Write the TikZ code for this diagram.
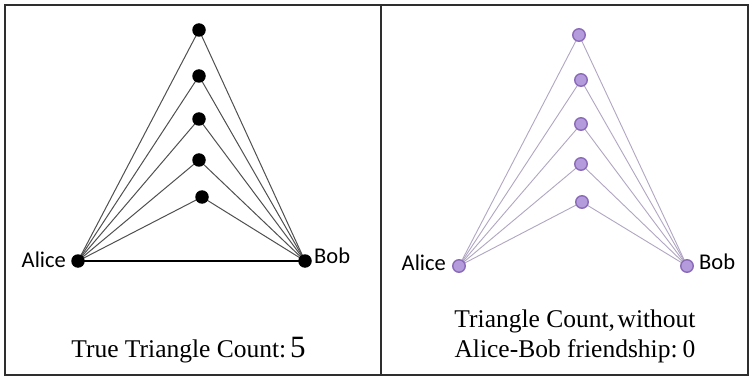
\documentclass[tikz,border=0pt]{standalone}
\usepackage{fontspec}
\setmainfont{Liberation Serif}
\newfontfamily\labelfont{Carlito}
\usetikzlibrary{backgrounds}
\definecolor{edgegray}{HTML}{505050}
\definecolor{nodepurple}{HTML}{B49BDC}
\definecolor{nodepurpledark}{HTML}{8A6BB8}
\definecolor{edgepurple}{HTML}{B0A6C2}
\definecolor{framegray}{HTML}{2E2E2E}
\begin{document}
\begin{tikzpicture}[x=1pt,y=-1pt,
  blackdot/.style={circle,fill=black,inner sep=0pt,minimum size=13.5pt},
  purpledot/.style={circle,fill=nodepurple,draw=nodepurpledark,line width=1.4pt,inner sep=0pt,minimum size=12.5pt},
  grayedge/.style={draw=edgegray,line width=1pt},
  purpleedge/.style={draw=edgepurple,line width=0.9pt},
  namelabel/.style={inner sep=0pt,font=\labelfont\fontsize{22.5}{27}\selectfont},
  caption/.style={inner sep=0pt,anchor=base,font=\fontsize{25.5}{30}\selectfont},
  frame/.style={draw=framegray,line width=2.2pt}]
\useasboundingbox (0,0) rectangle (750,377);
% left panel
\node[blackdot] (la) at (78,261) {};
\node[blackdot] (lb) at (305,261) {};
\node[blackdot] (l1) at (199,30) {};
\node[blackdot] (l2) at (199,76) {};
\node[blackdot] (l3) at (199,119) {};
\node[blackdot] (l4) at (199,160) {};
\node[blackdot] (l5) at (202,197) {};
\node[namelabel,anchor=east] (lalab) at (66,260) {Alice};
\node[namelabel,anchor=west] (lblab) at (314,256) {Bob};
\node[caption] (lcap) at (188.5,357) {True Triangle Count:\hspace{0.15em}{\fontsize{31}{30}\selectfont 5}};
% right panel
\node[purpledot] (ra) at (459,266) {};
\node[purpledot] (rb) at (687,266) {};
\node[purpledot] (r1) at (579,35) {};
\node[purpledot] (r2) at (581,80) {};
\node[purpledot] (r3) at (581,124) {};
\node[purpledot] (r4) at (581,164) {};
\node[purpledot] (r5) at (582,202) {};
\node[namelabel,anchor=east] (ralab) at (446,263) {Alice};
\node[namelabel,anchor=west] (rblab) at (699,262) {Bob};
\node[caption] (rcap1) at (575,327) {Triangle Count,\hspace{0.1em}without};
\node[caption] (rcap2) at (575,357) {Alice-Bob friendship:\hspace{0.2em}0};
\begin{scope}[on background layer]
\fill[white] (0,0) rectangle (750,377);
\draw[frame] (5,5) rectangle (381,375);
\draw[frame] (381,5) rectangle (748,375);
\foreach \n in {l1,l2,l3,l4,l5}{
  \draw[grayedge] (la.center) -- (\n.center) -- (lb.center);
}
\draw[black,line width=1.5pt] (la.center) -- (lb.center);
\foreach \n in {r1,r2,r3,r4,r5}{
  \draw[purpleedge] (ra.center) -- (\n.center) -- (rb.center);
}
\end{scope}
\end{tikzpicture}
\end{document}
